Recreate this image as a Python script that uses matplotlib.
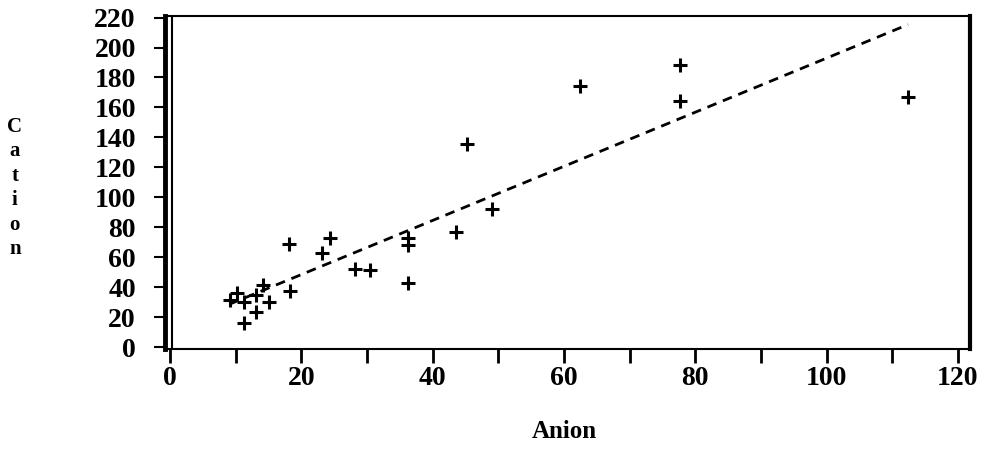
import numpy as np
import matplotlib
matplotlib.use("Agg")
import matplotlib.pyplot as plt
from matplotlib.ticker import MultipleLocator

# values
anion = [9.1, 10.2, 11.3, 11.2, 13.1, 13.1, 14.2, 15.1, 18.3, 18.2, 23.2, 24.4,
         28.2, 30.4, 36.2, 36.2, 36.2, 43.5, 45.2, 49.0, 62.4, 77.6, 77.6, 112.4]
cation = [31.5, 36.0, 30.4, 16.0, 23.7, 35.0, 41.5, 30.4, 37.7, 69.0, 63.0, 73.0,
          52.0, 51.5, 43.0, 68.0, 73.0, 77.0, 135.5, 92.0, 174.0, 188.0, 164.0, 167.0]

xticks = [0, 20, 40, 60, 80, 100, 120]
yticks = list(range(0, 221, 20))

font = dict(family="Liberation Serif", fontweight="bold")

fig = plt.figure(figsize=(9.85, 4.5), dpi=100)
ax = fig.add_axes([0.1675, 0.2244, 0.817, 0.74])

ax.scatter(anion, cation, marker="+", s=90, linewidths=2.2, color="black", zorder=3)

# fitted line over the range of the data
slope, icpt = np.polyfit(anion, cation, 1)
xs = np.array([min(anion), max(anion)])
ax.plot(xs, icpt + slope * xs, linestyle=(0, (3.5, 2.5)), color="black", lw=2)

ax.set_xlim(-0.76, 121.8)
ax.set_ylim(-1.1, 221)
ax.axvline(0.3, color="black", lw=1.5)

ax.set_xticks(xticks)
ax.xaxis.set_minor_locator(MultipleLocator(10))
ax.set_yticks(yticks)
ax.set_xticklabels([str(t) for t in xticks], fontsize=20, **font)
ax.set_yticklabels([str(t) for t in yticks], fontsize=20, **font)
ax.tick_params(axis="x", which="both", direction="out", length=10, width=2, pad=2)
ax.tick_params(axis="y", direction="out", length=8, width=1.5, pad=13)

for s in ["top", "bottom"]:
    ax.spines[s].set_linewidth(1.5)
ax.spines["left"].set_linewidth(3.5)
ax.spines["right"].set_linewidth(3)

fig.text(0.5725, 0.04, "Anion", ha="center", va="center", fontsize=18, **font)
fig.text(0.015, 0.582, "C\na\nt\ni\no\nn", ha="center", va="center",
         fontsize=15, linespacing=1.3, **font)

fig.savefig("out.png", dpi=100)
